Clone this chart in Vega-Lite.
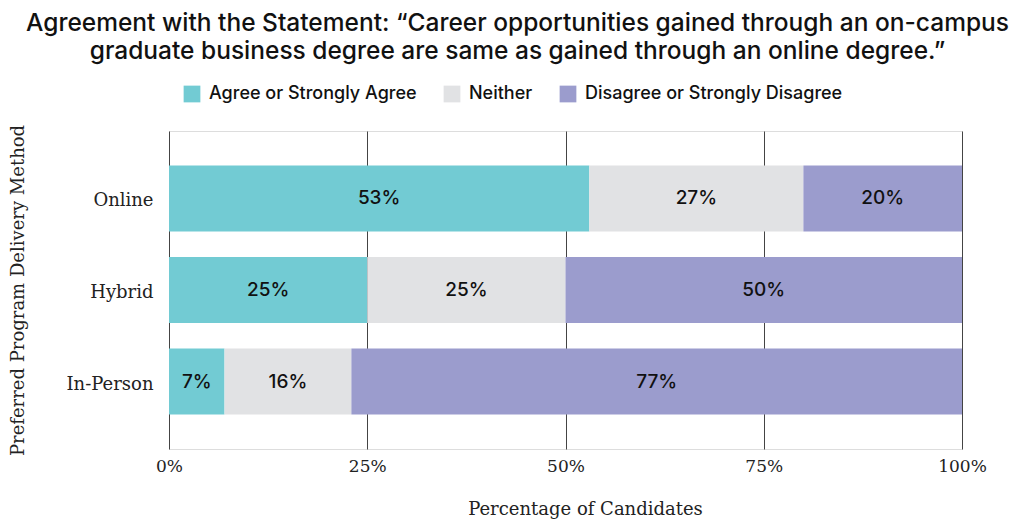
{
  "$schema": "https://vega.github.io/schema/vega-lite/v6.json",
  "width": 793,
  "height": 318,
  "autosize": "none",
  "padding": {"left": 169, "top": 131, "right": 55, "bottom": 70},
  "background": "white",
  "title": {
    "text": ["Agreement with the Statement: “Career opportunities gained through an on-campus", "graduate business degree are same as gained through an online degree.”"],
    "anchor": "middle",
    "frame": "group",
    "dx": -48,
    "offset": 21,
    "font": "Inter",
    "fontSize": 24.5,
    "fontWeight": 500,
    "color": "#111111",
    "lineHeight": 28
  },
  "data": {
    "values": [
      {"Method": "Online", "Response": "Agree or Strongly Agree", "order": 1, "Value": 53, "Label": "53%"},
      {"Method": "Online", "Response": "Neither", "order": 2, "Value": 27, "Label": "27%"},
      {"Method": "Online", "Response": "Disagree or Strongly Disagree", "order": 3, "Value": 20, "Label": "20%"},
      {"Method": "Hybrid", "Response": "Agree or Strongly Agree", "order": 1, "Value": 25, "Label": "25%"},
      {"Method": "Hybrid", "Response": "Neither", "order": 2, "Value": 25, "Label": "25%"},
      {"Method": "Hybrid", "Response": "Disagree or Strongly Disagree", "order": 3, "Value": 50, "Label": "50%"},
      {"Method": "In-Person", "Response": "Agree or Strongly Agree", "order": 1, "Value": 7, "Label": "7%"},
      {"Method": "In-Person", "Response": "Neither", "order": 2, "Value": 16, "Label": "16%"},
      {"Method": "In-Person", "Response": "Disagree or Strongly Disagree", "order": 3, "Value": 77, "Label": "77%"}
    ]
  },
  "transform": [
    {"stack": "Value", "groupby": ["Method"], "sort": [{"field": "order"}], "as": ["x0", "x1"]},
    {"calculate": "(datum.x0 + datum.x1) / 2", "as": "xm"}
  ],
  "encoding": {
    "y": {
      "field": "Method",
      "type": "nominal",
      "sort": ["Online", "Hybrid", "In-Person"],
      "scale": {"paddingInner": 0.28, "paddingOuter": 0.377},
      "axis": {
        "title": "Preferred Program Delivery Method",
        "titleFont": "DejaVu Serif",
        "titleFontSize": 18,
        "titleFontWeight": "normal",
        "titleColor": "#222222",
        "titlePadding": 38,
        "labelFont": "DejaVu Serif",
        "labelFontSize": 18,
        "labelColor": "#222222",
        "labelPadding": 16,
        "labelOffset": 3,
        "ticks": false,
        "domain": false
      }
    }
  },
  "layer": [
    {
      "mark": {"type": "bar"},
      "encoding": {
        "x": {
          "field": "x0",
          "type": "quantitative",
          "scale": {"domain": [0, 100], "nice": false},
          "axis": {
            "title": "Percentage of Candidates",
            "titleX": 416,
            "values": [0, 25, 50, 75, 100],
            "labelExpr": "datum.value + '%'",
            "labelFlush": false,
            "grid": true,
            "gridColor": "#444444",
            "gridWidth": 1,
            "gridOpacity": 1,
            "domain": false,
            "ticks": false,
            "labelFont": "DejaVu Serif",
            "labelFontSize": 17,
            "labelColor": "#222222",
            "labelPadding": 9,
            "titleFont": "DejaVu Serif",
            "titleFontSize": 18,
            "titleFontWeight": "normal",
            "titleColor": "#222222",
            "titlePadding": 26
          }
        },
        "x2": {"field": "x1"},
        "color": {
          "field": "Response",
          "type": "nominal",
          "sort": ["Agree or Strongly Agree", "Neither", "Disagree or Strongly Disagree"],
          "scale": {
            "domain": ["Agree or Strongly Agree", "Neither", "Disagree or Strongly Disagree"],
            "range": ["#72CBD3", "#E1E2E4", "#9B9CCD"]
          },
          "legend": {
            "title": null,
            "orient": "none",
            "direction": "horizontal",
            "legendX": 14,
            "legendY": -46,
            "symbolType": "square",
            "symbolSize": 280,
            "symbolStrokeWidth": 0,
            "labelFont": "Inter",
            "labelFontSize": 18,
            "labelFontWeight": 500,
            "labelColor": "#111111",
            "labelLimit": 0,
            "columnPadding": 26,
            "labelOffset": 8
          }
        }
      }
    },
    {
      "mark": {"type": "text", "font": "Inter", "fontSize": 19, "fontWeight": 500, "color": "#111111", "baseline": "middle", "align": "center"},
      "encoding": {
        "x": {"field": "xm", "type": "quantitative"},
        "text": {"field": "Label", "type": "nominal"},
        "detail": {"field": "Response"}
      }
    }
  ]
}
